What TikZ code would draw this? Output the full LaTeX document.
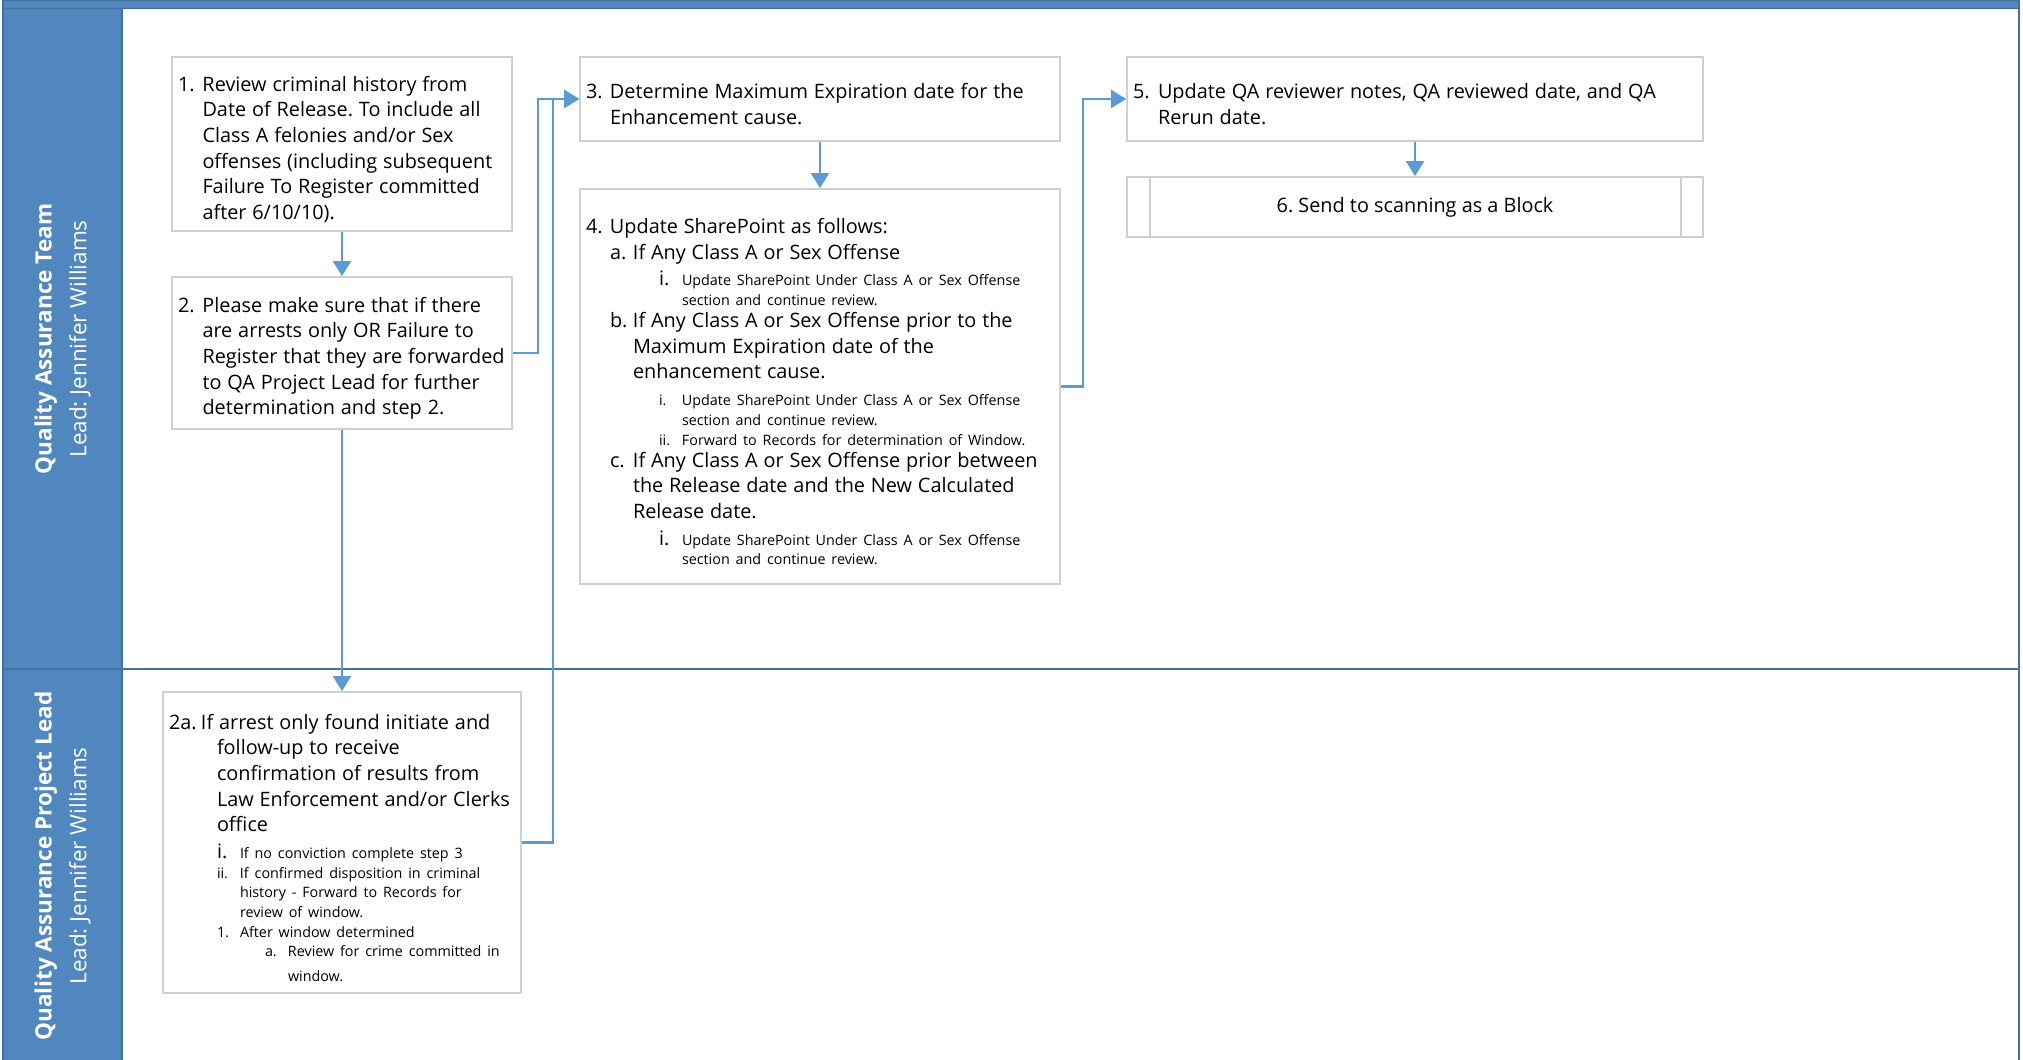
\documentclass[tikz,border=0pt]{standalone}
\usepackage{fontspec}
\setmainfont{Open Sans}
\definecolor{lanefill}{RGB}{80,135,190}
\definecolor{laneedge}{RGB}{65,113,156}
\definecolor{flowblue}{RGB}{91,155,213}
\definecolor{boxgray}{RGB}{208,208,208}
\usetikzlibrary{arrows.meta,positioning}

\newcommand{\mainfs}{\fontsize{11.3}{14.6}\selectfont}
\newcommand{\subfs}{\fontsize{8.15}{11.2}\selectfont}
\newcommand{\subgap}{\vskip4pt}
\newcommand{\maingap}{\vskip-2pt}
% one list item: indent, label width, label, lines
\newcommand{\stepitem}[4]{\par\leftskip=\dimexpr#1+#2\relax\rightskip=-1cm plus 1fil\parindent=0pt%
  \noindent\hspace*{-#2}\makebox[#2][l]{#3}\ignorespaces#4\par}
\frenchspacing

\begin{document}
\begin{tikzpicture}[
    stepbox/.style={draw=boxgray, line width=1pt, fill=white, inner xsep=0.12cm, inner ysep=0pt, align=left},
    flow/.style={draw=flowblue, line width=1.2pt, -{Triangle[width=0.36cm,length=0.3cm]}},
    laneline/.style={draw=laneedge, line width=1.1pt},
    lanetitle/.style={rotate=90, align=center, text=white, font=\fontsize{12.8}{19.8}\selectfont}]
  \useasboundingbox (0,0) rectangle (40.46,21.2);

  % Pool frame
  \fill[lanefill] (0.06,21.03) rectangle (40.38,21.2);
  \fill[lanefill] (0.06,0) rectangle (2.44,21.03);
  \draw[laneline] (0.06,0) -- (0.06,21.2) -- (40.38,21.2) -- (40.38,0);
  \draw[laneline] (0.06,21.03) -- (40.38,21.03);
  \draw[laneline] (2.44,0) -- (2.44,21.03);
  \draw[laneline] (0.06,7.82) -- (40.38,7.82);

  % Lane titles
  \node[lanetitle] (team) at (1.25,14.42) {\textbf{Quality Assurance Team}\\Lead: Jennifer Williams};
  \node[lanetitle] (lead) at (1.25,3.88) {\textbf{Quality Assurance Project Lead}\\Lead: Jennifer Williams};

  % Step 1
  \node[stepbox, text width=6.56cm, minimum height=3.48cm] (b1) at (6.84,18.32) {\mainfs
    \stepitem{0cm}{0.49cm}{1.}{Review criminal history from\break Date of Release. To include all\break Class A felonies and/or Sex\break offenses (including subsequent\break Failure To Register committed\break after 6/10/10).}};

  % Step 2
  \node[stepbox, text width=6.56cm, minimum height=3.04cm] (b2) at (6.84,14.14) {\mainfs
    \stepitem{0cm}{0.49cm}{2.}{Please make sure that if there\break are arrests only OR Failure to\break Register that they are forwarded\break to QA Project Lead for further\break determination and step 2.}};

  % Step 2a
  \node[stepbox, text width=6.92cm, minimum height=6.02cm] (b2a) at (6.84,4.35) {\mainfs
    \stepitem{0cm}{0.64cm}{2a.}{If arrest only found initiate and\break\hspace*{0.32cm}follow-up to receive\break\hspace*{0.32cm}confirmation of results from\break\hspace*{0.32cm}Law Enforcement and/or Clerks\break\hspace*{0.32cm}office}
    \subgap
    {\subfs
    \stepitem{0.96cm}{0.46cm}{\mainfs i.}{If no conviction complete step 3}
    \stepitem{0.96cm}{0.46cm}{ii.}{If confirmed disposition in criminal\break history - Forward to Records for\break review of window.}
    \stepitem{0.96cm}{0.46cm}{1.}{After window determined}
    \stepitem{1.92cm}{0.46cm}{a.}{Review for crime committed in}
    \vskip2.6pt
    \stepitem{1.92cm}{0.46cm}{}{window.}}};

  % Step 3
  \node[stepbox, text width=9.36cm, minimum height=1.68cm] (b3) at (16.4,19.22) {\mainfs
    \stepitem{0cm}{0.48cm}{3.}{Determine Maximum Expiration date for the\break Enhancement cause.}};

  % Step 4
  \node[stepbox, text width=9.36cm, minimum height=7.9cm] (b4) at (16.4,13.47) {\mainfs
    \stepitem{0cm}{0.48cm}{4.}{Update SharePoint as follows:}
    \stepitem{0.48cm}{0.46cm}{a.}{If Any Class A or Sex Offense}
    \subgap
    {\subfs\stepitem{1.46cm}{0.46cm}{\mainfs i.}{Update SharePoint Under Class A or Sex Offense\break section and continue review.}}
    \maingap
    \stepitem{0.48cm}{0.46cm}{b.}{If Any Class A or Sex Offense prior to the\break Maximum Expiration date of the\break enhancement cause.}
    \subgap
    {\subfs\stepitem{1.46cm}{0.46cm}{i.}{Update SharePoint Under Class A or Sex Offense\break section and continue review.}
    \stepitem{1.46cm}{0.46cm}{ii.}{Forward to Records for determination of Window.}}
    \maingap
    \stepitem{0.48cm}{0.46cm}{c.}{If Any Class A or Sex Offense prior between\break the Release date and the New Calculated\break Release date.}
    \subgap
    {\subfs\stepitem{1.46cm}{0.46cm}{\mainfs i.}{Update SharePoint Under Class A or Sex Offense\break section and continue review.}}};

  % Step 5
  \node[stepbox, text width=11.28cm, minimum height=1.68cm] (b5) at (28.3,19.22) {\mainfs
    \stepitem{0cm}{0.5cm}{5.}{Update QA reviewer notes, QA reviewed date, and QA\break Rerun date.}};

  % Step 6
  \node[stepbox, align=center, minimum width=11.52cm, minimum height=1.2cm, font=\mainfs] (b6) at (28.3,17.06) {6. Send to scanning as a Block};
  \draw[draw=boxgray, line width=1pt] ([xshift=0.48cm]b6.north west) -- ([xshift=0.48cm]b6.south west);
  \draw[draw=boxgray, line width=1pt] ([xshift=-0.46cm]b6.north east) -- ([xshift=-0.46cm]b6.south east);

  % Connectors
  \draw[flow] (b1) -- (b2);
  \draw[flow] (b2) -- (b2a);
  \draw[flow] (b2.east) -- ++(0.5,0) |- (b3.west);
  \draw[flow] (b2a.east) -- ++(0.62,0) |- (b3.west);
  \draw[flow] (b3) -- (b4);
  \draw[flow] (b4.east) -- ++(0.44,0) |- (b5.west);
  \draw[flow] (b5) -- (b6);
\end{tikzpicture}
\end{document}
